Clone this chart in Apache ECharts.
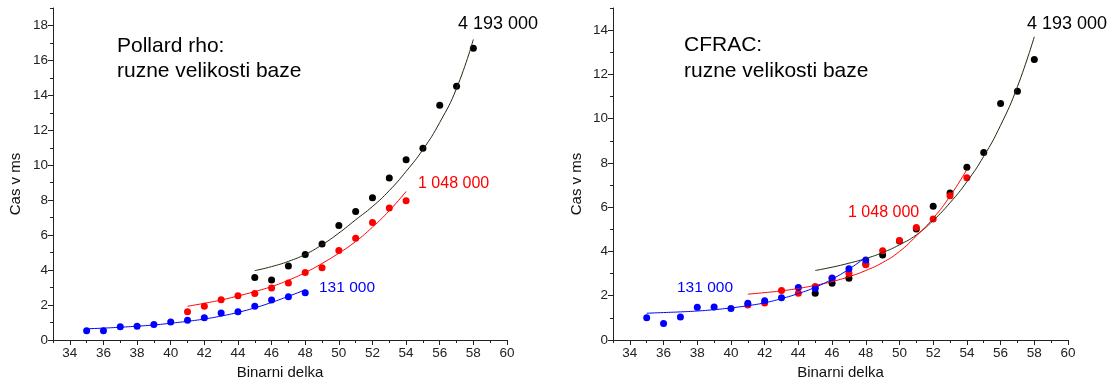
<!DOCTYPE html>
<html lang="en">
<head>
    <meta charset="utf-8">
    <title>Pollard rho / CFRAC</title>
    <script src="https://cdn.jsdelivr.net/npm/echarts@6.0.0/dist/echarts.min.js"></script>
    <style>
        html, body { margin: 0; padding: 0; background: #fff; }
        #chart { width: 1111px; height: 381px; }
    </style>
</head>
<body>
    <div id="chart"></div>
    <script>
        // binary lengths for each factor base size
        const bitsBlue = [35, 36, 37, 38, 39, 40, 41, 42, 43, 44, 45, 46, 47, 48];
        const bitsRed = [41, 42, 43, 44, 45, 46, 47, 48, 49, 50, 51, 52, 53, 54];
        const bitsBlack = [45, 46, 47, 48, 49, 50, 51, 52, 53, 54, 55, 56, 57, 58];

        // Pollard rho - measured times (ms)
        const pollBlue = [0.53, 0.53, 0.76, 0.78, 0.88, 1.03, 1.13, 1.28, 1.55, 1.62, 1.93, 2.29, 2.48, 2.71];
        const pollRed = [1.62, 1.93, 2.31, 2.53, 2.66, 2.97, 3.26, 3.86, 4.14, 5.12, 5.83, 6.73, 7.55, 7.97];
        const pollBlack = [3.57, 3.44, 4.24, 4.89, 5.50, 6.55, 7.36, 8.14, 9.27, 10.32, 10.97, 13.43, 14.52, 16.70];
        // Pollard rho - fitted curves
        const pollBlueFit = [0.64, 0.68, 0.73, 0.79, 0.86, 0.96, 1.07, 1.2, 1.37, 1.58, 1.84, 2.15, 2.5, 2.87];
        const pollRedFit = [1.93, 2.1, 2.29, 2.52, 2.77, 3.06, 3.42, 3.86, 4.38, 4.97, 5.64, 6.46, 7.4, 8.5];
        const pollBlackFit = [3.97, 4.2, 4.5, 4.9, 5.45, 6.12, 6.88, 7.64, 8.55, 9.65, 10.9, 12.45, 14.4, 17.2];

        // CFRAC - measured times (ms)
        const cfBlue = [1.0, 0.74, 1.04, 1.48, 1.49, 1.42, 1.66, 1.77, 1.91, 2.37, 2.33, 2.79, 3.22, 3.62];
        const cfRed = [1.58, 1.67, 2.24, 2.11, 2.42, 2.8, 3.02, 3.4, 4.03, 4.49, 5.08, 5.47, 6.52, 7.33];
        const cfBlack = [2.11, 2.56, 2.79, 3.45, 3.84, 4.47, 5.01, 6.04, 6.64, 7.80, 8.47, 10.68, 11.24, 12.67];
        // CFRAC - fitted curves
        const cfBlueFit = [1.21, 1.24, 1.27, 1.31, 1.37, 1.45, 1.55, 1.68, 1.87, 2.1, 2.38, 2.75, 3.2, 3.74];
        const cfRedFit = [2.07, 2.14, 2.22, 2.33, 2.47, 2.64, 2.86, 3.14, 3.5, 4.0, 4.7, 5.5, 6.5, 7.7];
        const cfBlackFit = [3.14, 3.29, 3.47, 3.68, 3.95, 4.3, 4.75, 5.4, 6.2, 7.15, 8.3, 9.7, 11.45, 13.7];

        // tick labels
        const xTicks = [34, 36, 38, 40, 42, 44, 46, 48, 50, 52, 54, 56, 58, 60];
        const yTicksPoll = [0, 2, 4, 6, 8, 10, 12, 14, 16, 18];
        const yTicksCf = [0, 2, 4, 6, 8, 10, 12, 14];

        const minorOf = ticks => ticks.map(v => v - 1).filter(v => v > 0);

        const font = '"Liberation Sans", Arial, sans-serif';
        const axisColor = '#222';
        const blue = '#0000ff', red = '#ff0000', black = '#000000';
        const fitBlack = '#262610';

        const pairs = (xs, ys) => xs.map((x, i) => [x, ys[i]]);

        function majorX(gridIndex, xName) {
            return {
                type: 'value', gridIndex: gridIndex, min: 33, max: 60,
                name: xName, nameLocation: 'middle', nameGap: 25,
                nameTextStyle: { fontFamily: font, fontSize: 15, color: '#111' },
                axisLine: { lineStyle: { color: axisColor, width: 1 } },
                axisTick: { show: true, length: 5, customValues: xTicks, lineStyle: { color: axisColor } },
                axisLabel: { customValues: xTicks, fontFamily: font, fontSize: 13.5, color: '#222', margin: 6 },
                splitLine: { show: false }
            };
        }
        function minorX(gridIndex) {
            return {
                type: 'value', gridIndex: gridIndex, min: 33, max: 60, position: 'bottom',
                axisLine: { show: false },
                axisTick: { show: true, length: 3, customValues: minorOf(xTicks), lineStyle: { color: axisColor } },
                axisLabel: { show: false },
                splitLine: { show: false }
            };
        }
        function majorY(gridIndex, max, ticks) {
            return {
                type: 'value', gridIndex: gridIndex, min: 0, max: max,
                axisLine: { show: true, lineStyle: { color: axisColor, width: 1 } },
                axisTick: { show: true, length: 5, customValues: ticks, lineStyle: { color: axisColor } },
                axisLabel: { customValues: ticks, fontFamily: font, fontSize: 13.5, color: '#222', margin: 5 },
                splitLine: { show: false }
            };
        }
        function minorY(gridIndex, max, ticks) {
            return {
                type: 'value', gridIndex: gridIndex, min: 0, max: max, position: 'left',
                axisLine: { show: false },
                axisTick: { show: true, length: 3, customValues: minorOf(ticks).concat([ticks[ticks.length - 1] + 1]), lineStyle: { color: axisColor } },
                axisLabel: { show: false },
                splitLine: { show: false }
            };
        }

        function dots(xi, yi, xs, ys, color) {
            return {
                type: 'scatter', xAxisIndex: xi, yAxisIndex: yi, data: pairs(xs, ys),
                symbolSize: 7, itemStyle: { color: color, opacity: 1 }, silent: true
            };
        }
        function fit(xi, yi, xs, ys, color) {
            return {
                type: 'line', xAxisIndex: xi, yAxisIndex: yi, data: pairs(xs, ys),
                smooth: true, showSymbol: false, symbol: 'none',
                lineStyle: { color: color, width: 1 }, silent: true
            };
        }

        function label(x, y, text, color, size) {
            return {
                type: 'text', x: x, y: y,
                style: { text: text, fill: color, font: size + 'px ' + font, textVerticalAlign: 'middle', verticalAlign: 'middle' }
            };
        }
        // rotated y-axis title
        function yTitle(x, y) {
            return {
                type: 'text', x: x, y: y, rotation: Math.PI / 2,
                style: { text: 'Cas v ms', fill: '#111', font: '15px ' + font, textAlign: 'center', align: 'center', textVerticalAlign: 'middle', verticalAlign: 'middle' }
            };
        }

        const chart = echarts.init(document.getElementById('chart'), null, { renderer: 'canvas' });
        chart.setOption({
            animation: false,
            backgroundColor: '#fff',
            grid: [
                { left: 53, top: 8, width: 454, height: 332, outerBoundsMode: 'none', containLabel: false },
                { left: 613, top: 8, width: 455, height: 332, outerBoundsMode: 'none', containLabel: false }
            ],
            xAxis: [majorX(0, 'Binarni delka'), minorX(0), majorX(1, 'Binarni delka'), minorX(1)],
            yAxis: [majorY(0, 19, yTicksPoll), minorY(0, 19, yTicksPoll), majorY(1, 15, yTicksCf), minorY(1, 15, yTicksCf)],
            series: [
                dots(0, 0, bitsBlack, pollBlack, black),
                dots(0, 0, bitsRed, pollRed, red),
                dots(0, 0, bitsBlue, pollBlue, blue),
                fit(0, 0, bitsBlack, pollBlackFit, fitBlack),
                fit(0, 0, bitsRed, pollRedFit, red),
                fit(0, 0, bitsBlue, pollBlueFit, blue),

                dots(2, 2, bitsBlack, cfBlack, black),
                dots(2, 2, bitsRed, cfRed, red),
                dots(2, 2, bitsBlue, cfBlue, blue),
                fit(2, 2, bitsBlack, cfBlackFit, fitBlack),
                fit(2, 2, bitsRed, cfRedFit, red),
                fit(2, 2, bitsBlue, cfBlueFit, blue)
            ],
            graphic: [
                yTitle(16, 184),
                yTitle(577, 184),

                label(117, 46, 'Pollard rho:', '#000', 21),
                label(117, 71, 'ruzne velikosti baze', '#000', 21),
                label(458, 24, '4 193 000', '#000', 18),
                label(418, 184, '1 048 000', red, 16),
                label(319, 288, '131 000', blue, 15.5),

                label(684, 45, 'CFRAC:', '#000', 21),
                label(684, 71, 'ruzne velikosti baze', '#000', 21),
                label(1027, 24, '4 193 000', '#000', 18),
                label(848, 213, '1 048 000', red, 16),
                label(677, 288, '131 000', blue, 15.5)
            ]
        });

        window.addEventListener('resize', () => chart.resize());
    </script>
</body>
</html>
